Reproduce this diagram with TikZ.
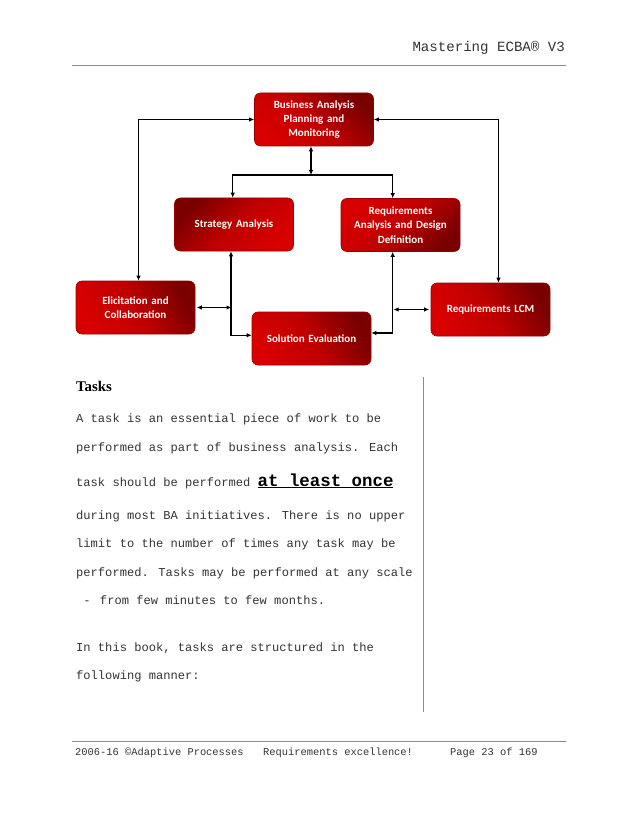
\documentclass[tikz,border=0pt]{standalone}
\usepackage{fontspec}
\newfontfamily\boxfont{Carlito}
\newfontfamily\mono{Liberation Mono}
\newfontfamily\serifb{Liberation Serif}
\usetikzlibrary{arrows.meta}
\definecolor{darkred}{HTML}{7A0000}
\definecolor{brightred}{HTML}{D80000}
\definecolor{txt}{HTML}{333333}
\tikzset{
  procbox/.style={rounded corners=6pt, draw=brightred!70!black, line width=0.6pt,
    top color=darkred, bottom color=brightred, middle color=red!75!black,
    minimum width=119pt, minimum height=53pt, inner sep=0pt, text width=116pt, align=center,
    font=\boxfont\bfseries\fontsize{11}{14.3}\selectfont, text=white},
  conn/.style={line width=1.3pt, black},
  dbl/.style={conn, {Latex[length=5pt,width=4.5pt]}-{Latex[length=5pt,width=4.5pt]}},
  one/.style={conn, -{Latex[length=5pt,width=4.5pt]}},
  body/.style={anchor=base west, inner sep=0pt, font=\mono\fontsize{12.1}{14}\selectfont, text=txt},
  rule/.style={line width=0.8pt, black!45}
}
\begin{document}
\begin{tikzpicture}[x=1pt,y=-1pt]
\useasboundingbox[fill=white] (0,0) rectangle (638,826);
% header
\node[anchor=base east, inner sep=0pt, font=\mono\fontsize{14.1}{16}\selectfont, text=txt] (hdr) at (565,52) {Mastering ECBA® V3};
\draw[rule] (72,65.5) coordinate (hl) -- (566,65.5) coordinate (hr);
% boxes
\node[procbox, shading angle=-45] (bapm) at (314,119.5) {Business Analysis\\Planning and\\Monitoring};
\node[procbox, shading angle=45] (sa) at (234,224.5) {Strategy Analysis};
\node[procbox, shading angle=-135] (radd) at (400.5,225) {Requirements\\Analysis and Design\\Definition};
\node[procbox, shading angle=-60] (elic) at (135.5,307.5) {Elicitation and\\Collaboration};
\node[procbox, shading angle=-60] (se) at (311.5,338.5) {Solution Evaluation};
\node[procbox, shading angle=-60] (lcm) at (490.5,309.5) {Requirements LCM};
% connectors
\draw[dbl] (bapm.west) -| ([xshift=3pt]elic.north);
\draw[dbl] (bapm.east) -| ([xshift=8pt]lcm.north);
\coordinate (j) at (311,175);
\draw[dbl] ([xshift=-3pt]bapm.south) -- (j);
\draw[one] (j) -| ([xshift=-1.3pt]sa.north);
\draw[one] (j) -| ([xshift=-7.8pt]radd.north);
\draw[dbl] ([xshift=-3pt]sa.south) |- ([yshift=3.2pt]se.west);
\draw[dbl] ([xshift=-7.8pt]radd.south) |- ([yshift=5.5pt]se.east);
\coordinate (lx) at (231.5,307);
\coordinate (rx) at (393.5,308.7);
\draw[dbl] ([xshift=1.5pt]elic.east) -- (elic.east -| lx);
\draw[dbl] ([xshift=-1.5pt]lcm.west) -- (lcm.west -| rx);
% column rule
\draw[rule] (423,377) coordinate (vt) -- (423,712) coordinate (vb);
% body text
\node[body, font=\serifb\bfseries\fontsize{14.8}{16}\selectfont, text=black] (tasks) at (76,391.5) {Tasks};
\node[body] (l1) at (76,422) {A task is an essential piece of work to be};
\node[body] (l2) at (76,451) {performed as part of business analysis. Each};
\node[body] (l3) at (76,486) {task should be performed \textcolor{black}{\fontsize{17.4}{20}\selectfont\bfseries\underline{at least once}}};
\node[body] (l4) at (76,519) {during most BA initiatives. There is no upper};
\node[body] (l5) at (76,547.5) {limit to the number of times any task may be};
\node[body] (l6) at (76,576) {performed. Tasks may be performed at any scale};
\node[body] (l7) at (76,604.5) {\ -\ \,from few minutes to few months.};
\node[body] (l8) at (76,651.5) {In this book, tasks are structured in the};
\node[body] (l9) at (76,679.5) {following manner:};
% footer
\draw[rule] (72,741) coordinate (fl) -- (566,741) coordinate (fr);
\node[body, font=\mono\fontsize{10.4}{12}\selectfont] (f1) at (75,755) {2006-16 ©Adaptive Processes};
\node[body, font=\mono\fontsize{10.4}{12}\selectfont] (f2) at (263,755) {Requirements excellence!};
\node[body, font=\mono\fontsize{10.4}{12}\selectfont] (f3) at (450,755) {Page 23 of 169};
\end{tikzpicture}
\end{document}
